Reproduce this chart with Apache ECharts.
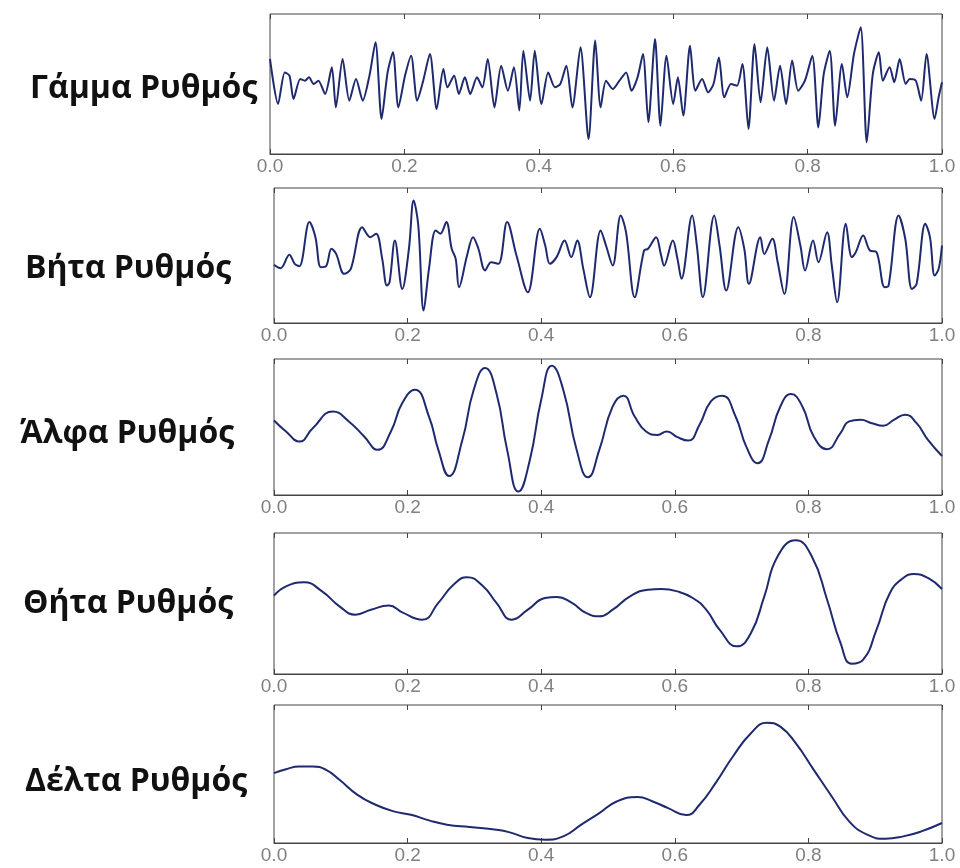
<!DOCTYPE html>
<html>
<head>
<meta charset="utf-8">
<style>html,body{margin:0;padding:0;background:#fff;}#chart{width:960px;height:868px;}</style>
<script src="https://cdn.jsdelivr.net/npm/echarts@6/dist/echarts.min.js"></script>
</head>
<body>
<div id="chart"></div>
<script>
// Panel titles
const panelNames = ['Γάμμα Ρυθμός', 'Βήτα Ρυθμός', 'Άλφα Ρυθμός', 'Θήτα Ρυθμός', 'Δέλτα Ρυθμός'];
// x tick labels
const tickLabels = ['0.0', '0.2', '0.4', '0.6', '0.8', '1.0'];

// Gamma rhythm: time (0..1) and normalized amplitude (0..1)
const gammaT = [0.000,0.012,0.022,0.029,0.035,0.045,0.052,0.058,0.065,0.072,0.082,0.092,0.098,0.108,0.118,0.128,0.138,0.148,0.157,0.166,0.175,0.183,0.191,0.201,0.210,0.219,0.228,0.238,0.248,0.258,0.264,0.274,0.281,0.290,0.298,0.308,0.316,0.324,0.334,0.344,0.354,0.363,0.371,0.377,0.387,0.394,0.404,0.414,0.424,0.432,0.441,0.450,0.462,0.474,0.484,0.492,0.500,0.510,0.520,0.530,0.538,0.547,0.555,0.563,0.573,0.581,0.590,0.600,0.607,0.615,0.625,0.633,0.643,0.652,0.660,0.668,0.676,0.686,0.695,0.703,0.712,0.721,0.730,0.740,0.750,0.759,0.768,0.777,0.786,0.796,0.807,0.816,0.824,0.833,0.841,0.851,0.859,0.869,0.879,0.888,0.897,0.906,0.912,0.922,0.929,0.937,0.946,0.952,0.961,0.969,0.977,0.989,0.995,1.000];
const gammaV = [0.679,0.357,0.583,0.560,0.393,0.536,0.524,0.548,0.500,0.524,0.429,0.619,0.333,0.679,0.381,0.536,0.381,0.560,0.798,0.250,0.583,0.726,0.333,0.560,0.702,0.381,0.524,0.714,0.321,0.607,0.476,0.560,0.429,0.548,0.429,0.548,0.476,0.679,0.333,0.631,0.452,0.619,0.310,0.738,0.381,0.738,0.357,0.583,0.476,0.500,0.631,0.333,0.762,0.107,0.810,0.333,0.524,0.464,0.524,0.583,0.452,0.548,0.714,0.226,0.821,0.202,0.702,0.357,0.548,0.274,0.774,0.452,0.536,0.440,0.500,0.690,0.405,0.500,0.488,0.643,0.179,0.786,0.369,0.762,0.381,0.631,0.357,0.667,0.452,0.524,0.702,0.190,0.571,0.738,0.202,0.643,0.405,0.714,0.905,0.083,0.571,0.726,0.524,0.619,0.512,0.679,0.500,0.536,0.524,0.381,0.714,0.250,0.405,0.512];

// Beta rhythm
const betaT = [0.000,0.010,0.023,0.031,0.038,0.053,0.062,0.070,0.078,0.086,0.093,0.105,0.115,0.132,0.144,0.153,0.162,0.169,0.173,0.181,0.192,0.202,0.209,0.216,0.224,0.232,0.242,0.249,0.258,0.266,0.272,0.277,0.289,0.298,0.306,0.316,0.325,0.336,0.349,0.363,0.380,0.398,0.406,0.413,0.423,0.435,0.445,0.454,0.463,0.473,0.489,0.497,0.507,0.519,0.527,0.540,0.554,0.560,0.572,0.579,0.584,0.597,0.604,0.610,0.626,0.633,0.642,0.659,0.667,0.677,0.695,0.704,0.711,0.728,0.734,0.746,0.754,0.764,0.778,0.788,0.795,0.807,0.815,0.828,0.835,0.843,0.856,0.865,0.871,0.882,0.892,0.902,0.914,0.920,0.935,0.945,0.955,0.962,0.975,0.982,0.989,0.995,1.000];
const betaV = [0.431,0.406,0.505,0.438,0.421,0.748,0.636,0.413,0.421,0.550,0.512,0.364,0.401,0.710,0.636,0.661,0.475,0.277,0.302,0.611,0.252,0.550,0.908,0.723,0.092,0.401,0.686,0.661,0.748,0.550,0.475,0.265,0.500,0.636,0.550,0.389,0.450,0.438,0.748,0.500,0.228,0.698,0.574,0.438,0.488,0.611,0.488,0.611,0.401,0.191,0.686,0.574,0.426,0.797,0.673,0.191,0.537,0.550,0.636,0.512,0.426,0.611,0.475,0.327,0.797,0.574,0.191,0.797,0.574,0.240,0.710,0.550,0.290,0.636,0.512,0.624,0.450,0.215,0.785,0.574,0.389,0.611,0.450,0.673,0.426,0.153,0.735,0.488,0.525,0.649,0.537,0.525,0.265,0.277,0.797,0.624,0.252,0.290,0.735,0.636,0.351,0.401,0.574];

// Alpha rhythm
const alphaT = [0.000,0.018,0.038,0.058,0.088,0.112,0.135,0.155,0.175,0.192,0.211,0.232,0.246,0.262,0.282,0.299,0.316,0.333,0.349,0.366,0.383,0.400,0.416,0.433,0.453,0.470,0.487,0.507,0.523,0.540,0.557,0.574,0.588,0.604,0.620,0.637,0.654,0.671,0.691,0.707,0.724,0.741,0.758,0.774,0.791,0.808,0.828,0.848,0.861,0.878,0.895,0.912,0.928,0.945,0.962,0.979,1.000];
const alphaV = [0.548,0.467,0.393,0.491,0.614,0.541,0.430,0.332,0.467,0.676,0.774,0.577,0.332,0.140,0.405,0.774,0.934,0.749,0.332,0.025,0.258,0.700,0.951,0.774,0.332,0.130,0.332,0.651,0.730,0.577,0.467,0.442,0.467,0.425,0.400,0.516,0.688,0.730,0.577,0.356,0.233,0.405,0.651,0.742,0.651,0.430,0.337,0.455,0.541,0.553,0.528,0.509,0.553,0.590,0.528,0.405,0.287];

// Theta rhythm
const thetaT = [0.000,0.018,0.045,0.072,0.098,0.122,0.145,0.172,0.192,0.222,0.246,0.269,0.289,0.313,0.333,0.356,0.380,0.406,0.423,0.446,0.467,0.487,0.507,0.533,0.560,0.580,0.604,0.627,0.647,0.667,0.693,0.714,0.734,0.754,0.781,0.805,0.828,0.848,0.865,0.882,0.902,0.922,0.942,0.958,0.979,1.000];
const thetaV = [0.556,0.622,0.650,0.586,0.480,0.421,0.456,0.485,0.437,0.385,0.504,0.634,0.686,0.622,0.504,0.385,0.456,0.539,0.546,0.504,0.433,0.409,0.456,0.551,0.598,0.603,0.586,0.539,0.456,0.314,0.196,0.291,0.551,0.835,0.948,0.835,0.527,0.220,0.073,0.102,0.314,0.574,0.681,0.709,0.681,0.603];

// Delta rhythm
const deltaT = [0.000,0.018,0.038,0.058,0.078,0.098,0.125,0.152,0.179,0.205,0.232,0.259,0.293,0.333,0.353,0.380,0.406,0.433,0.460,0.487,0.513,0.544,0.567,0.590,0.617,0.637,0.661,0.687,0.714,0.738,0.758,0.781,0.808,0.835,0.861,0.888,0.915,0.942,0.969,1.000];
const deltaV = [0.506,0.535,0.554,0.554,0.530,0.458,0.349,0.277,0.229,0.205,0.164,0.133,0.116,0.096,0.077,0.036,0.024,0.048,0.133,0.217,0.301,0.333,0.301,0.253,0.202,0.277,0.434,0.627,0.795,0.872,0.843,0.723,0.530,0.337,0.157,0.060,0.031,0.048,0.084,0.145];

const seriesT = [gammaT, betaT, alphaT, thetaT, deltaT];
const seriesV = [gammaV, betaV, alphaV, thetaV, deltaV];
const smoothness = [0.25, 0.35, 0.5, 0.5, 0.5];

// Layout (pixels)
const grids = [
  {left: 270, width: 672, top: 14, height: 140},
  {left: 274, width: 668, top: 188, height: 135},
  {left: 274, width: 668, top: 359, height: 136},
  {left: 274, width: 668, top: 533, height: 141},
  {left: 274, width: 668, top: 705, height: 138}
];
const labelPos = [
  {x: 30, y: 89}, {x: 25, y: 269}, {x: 20, y: 434}, {x: 23, y: 604}, {x: 25, y: 782}
];

const lineColor = '#1f2a6e';
const frameColor = '#444';

const option = {
  animation: false,
  backgroundColor: '#fff',
  grid: grids.map(g => Object.assign({show: true, borderColor: frameColor, borderWidth: 1, backgroundColor: 'transparent'}, g)),
  xAxis: [],
  yAxis: [],
  series: [],
  graphic: panelNames.map((name, i) => ({
    type: 'text', x: labelPos[i].x, y: labelPos[i].y,
    style: {text: name, fill: '#111', font: 'bold 32px "Open Sans", "Noto Sans", sans-serif',
      align: 'left', verticalAlign: 'middle'}
  }))
};

grids.forEach((g, i) => {
  option.xAxis.push({
    gridIndex: i, type: 'value', min: 0, max: 1, interval: 0.2, position: 'bottom',
    axisLine: {show: true, lineStyle: {color: frameColor, width: 1}},
    axisTick: {show: true, inside: true, length: 5, lineStyle: {color: frameColor}},
    splitLine: {show: false},
    axisLabel: {color: '#808080', fontSize: 19, fontFamily: 'Liberation Sans, Arial, sans-serif', margin: 3,
      formatter: v => tickLabels[Math.round(v / 0.2)]}
  });
  option.xAxis.push({
    gridIndex: i, type: 'value', min: 0, max: 1, interval: 0.2, position: 'top',
    axisLine: {show: false},
    axisTick: {show: true, inside: true, length: 5, lineStyle: {color: frameColor}},
    splitLine: {show: false}, axisLabel: {show: false}
  });
  option.yAxis.push({
    gridIndex: i, type: 'value', min: 0, max: 1, show: false, splitLine: {show: false}
  });
  option.series.push({
    type: 'line', xAxisIndex: 2 * i, yAxisIndex: i, showSymbol: false, symbol: 'none',
    smooth: smoothness[i],
    lineStyle: {color: lineColor, width: 2},
    data: seriesT[i].map((t, k) => [t, seriesV[i][k]])
  });
});

const chart = echarts.init(document.getElementById('chart'), null, {renderer: 'canvas'});
chart.setOption(option);
</script>
</body>
</html>
